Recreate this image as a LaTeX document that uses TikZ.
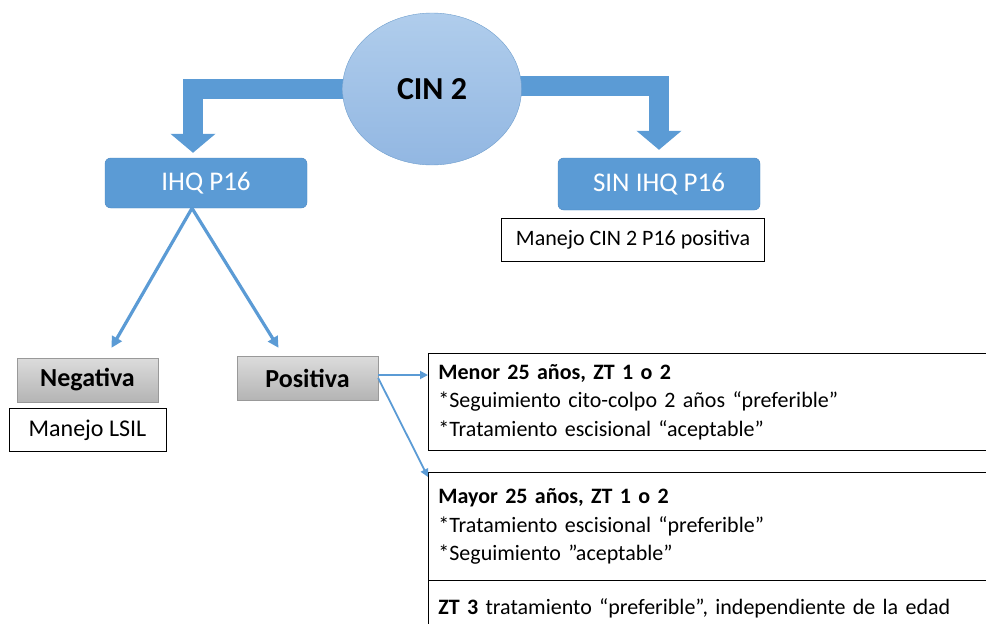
\documentclass[tikz,border=0pt]{standalone}
\usepackage{fontspec}
\setmainfont{Carlito}
\usetikzlibrary{arrows.meta,positioning,backgrounds,shapes.geometric}
\definecolor{OfficeBlue}{HTML}{5B9BD5}
\definecolor{EdgeBlue}{HTML}{4A86C0}
\definecolor{SoftTop}{HTML}{B0CDEC}
\definecolor{SoftBottom}{HTML}{92B7E2}
\definecolor{GrayTop}{HTML}{DCDCDC}
\definecolor{GrayBottom}{HTML}{B4B4B4}

\begin{document}
\begin{tikzpicture}[
x=1pt,y=-1pt,
every node/.style={font=\fontsize{22}{28.5}\selectfont},
blk/.style={draw=EdgeBlue,fill=OfficeBlue,rounded corners=2mm,text=white,minimum width=202pt,minimum height=50pt,font=\fontsize{27}{32}\selectfont},
grybox/.style={draw=gray!80,top color=GrayTop,bottom color=GrayBottom,minimum width=141pt,minimum height=44pt,font=\fontsize{26}{30}\selectfont\bfseries},
txtbox/.style={draw=black,thick,fill=white,minimum height=43pt},
infobox/.style={draw=black,thick,fill=white,anchor=north west,align=left,text width=680pt,inner xsep=10pt},
fatarr/.style={line width=20pt,OfficeBlue,line join=miter,-{Triangle[width=44pt,length=19pt]}},
arr/.style={OfficeBlue,line width=3.2pt,-{Triangle[width=11pt,length=11pt]}},
smallarr/.style={OfficeBlue,line width=1.8pt,-{Triangle[width=8pt,length=8pt]}}
]
\useasboundingbox (0,0) rectangle (986,624);
% top of the tree
\node[ellipse,draw=EdgeBlue!80,top color=SoftTop,bottom color=SoftBottom,minimum width=179pt,minimum height=152pt,inner sep=0pt,font=\fontsize{32}{36}\selectfont\bfseries] (cin) at (432,89) {CIN 2};
\node[blk] (ihq) at (206,183) {IHQ P16};
\node[blk,minimum height=52pt] (sin) at (659,184) {SIN IHQ P16};
\node[txtbox,minimum width=263pt,below=8pt of sin,xshift=-26pt] (cinpos) {Manejo CIN 2 P16 positiva};
% p16 result
\node[grybox] (neg) at (87.5,380) {Negativa};
\node[txtbox,minimum width=157pt,below=6pt of neg,font=\fontsize{24}{28}\selectfont] (lsil) {Manejo LSIL};
\node[grybox] (pos) at (307.5,378) {Positiva};
% management by age
\node[infobox,minimum height=97pt] (menor) at (428,353) {\textbf{Menor 25 años, ZT 1 o 2}\\{*}Seguimiento cito-colpo 2 años “preferible”\\{*}Tratamiento escisional “aceptable”};
\node[infobox,minimum height=108pt] (mayor) at (428,472) {\textbf{Mayor 25 años, ZT 1 o 2}\\{*}Tratamiento escisional “preferible”\\{*}Seguimiento ”aceptable”};
\node[infobox,minimum height=56pt] (zt) at (428,580) {\textbf{ZT 3} tratamiento “preferible”, independiente de la edad};
\begin{scope}[on background layer]
\draw[fatarr,shorten >=5pt] (cin.center) -| ([xshift=-13pt]ihq.north);
\draw[fatarr,shorten >=8pt] ([yshift=3pt]cin.center) -| (sin.north);
\end{scope}
\draw[arr] ([xshift=-14pt]ihq.south) -- ([xshift=24pt,yshift=10pt]neg.north);
\draw[arr] ([xshift=-14pt]ihq.south) -- ([xshift=-29pt,yshift=8pt]pos.north);
\draw[smallarr] ([yshift=3pt]pos.east) -- ([yshift=3pt]pos.east -| menor.west);
\draw[smallarr] (pos.east) -- ([yshift=-5pt]mayor.north west);
\end{tikzpicture}
\end{document}
